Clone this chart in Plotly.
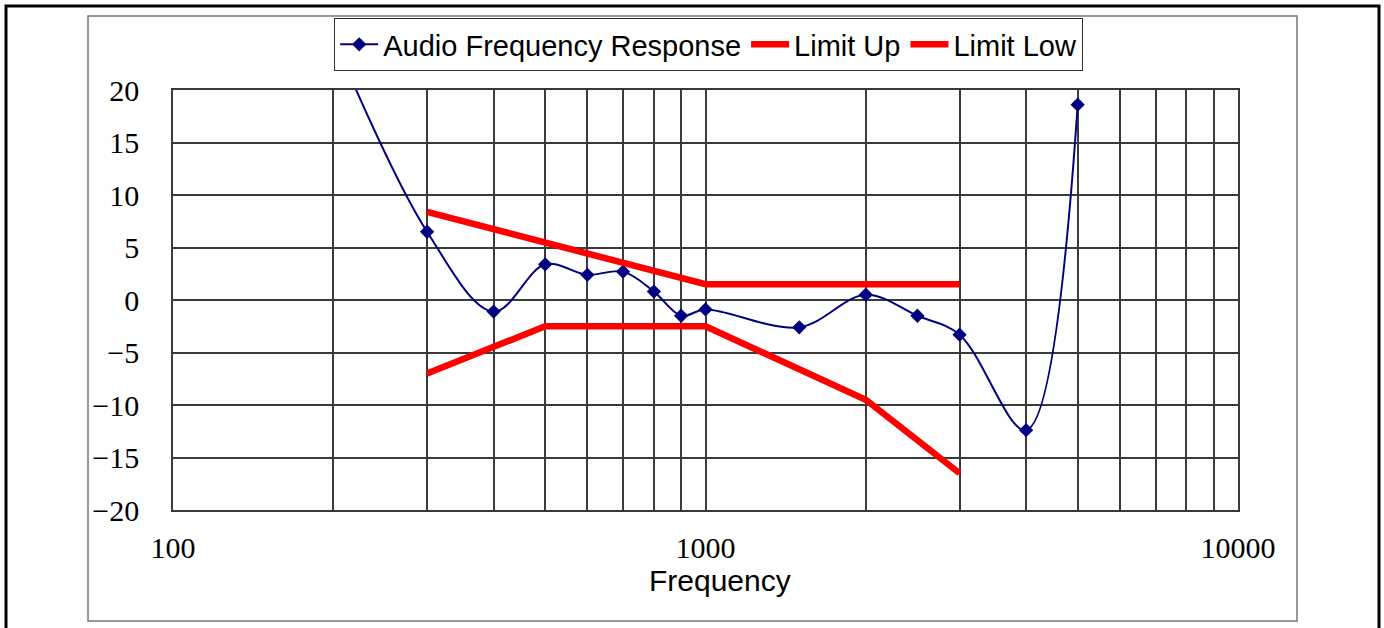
import plotly.graph_objects as go

# Data
freq = [200, 300, 400, 500, 600, 700, 800, 900, 1000, 1500, 2000, 2500, 3000, 4000, 5000]
response = [25.0, 6.5, -1.1, 3.4, 2.4, 2.7, 0.8, -1.5, -0.9, -2.6, 0.5, -1.5, -3.3, -12.4, 18.6]

limit_up_freq = [300, 1000, 3000]
limit_up = [8.4, 1.5, 1.5]

limit_low_freq = [300, 500, 1000, 2000, 3000]
limit_low = [-7.0, -2.5, -2.5, -9.5, -16.5]

grid_vals = [m * d for d in (100, 1000) for m in range(1, 10)] + [10000]
grid_text = [str(v) if v in (100, 1000, 10000) else "" for v in grid_vals]

x_title = "Frequency"

W, H = 1384, 628
L, R, T, B = 173, 146, 90, 118
pw, ph = W - L - R, H - T - B

def px_x(p):
    return (p - L) / pw

def px_y(p):
    return (H - B - p) / ph

fig = go.Figure()
fig.add_trace(go.Scatter(
    x=freq, y=response, name="Audio Frequency Response",
    mode="lines+markers",
    line=dict(color="#000080", width=2, shape="spline", smoothing=1.0),
    marker=dict(symbol="diamond", size=11, color="#000080"),
))
fig.add_trace(go.Scatter(
    x=limit_up_freq, y=limit_up, name="Limit Up", mode="lines",
    line=dict(color="#FF0000", width=6.5),
))
fig.add_trace(go.Scatter(
    x=limit_low_freq, y=limit_low, name="Limit Low", mode="lines",
    line=dict(color="#FF0000", width=6.5),
))

grid_color = "#3a3a3a"
fig.update_xaxes(
    type="log", range=[2, 4],
    tickvals=grid_vals, ticktext=grid_text,
    showgrid=True, gridcolor=grid_color, gridwidth=1.5,
    showline=True, linecolor=grid_color, linewidth=1.5, mirror=True,
    ticks="", ticklabelstandoff=10,
    tickfont=dict(family="Liberation Serif", size=30, color="black"),
    zeroline=False,
)
fig.update_yaxes(
    range=[-20, 20], dtick=5, tick0=0,
    showgrid=True, gridcolor=grid_color, gridwidth=1.5,
    showline=True, linecolor=grid_color, linewidth=1.5, mirror=True,
    ticks="", ticklabelstandoff=26,
    tickfont=dict(family="Liberation Serif", size=30, color="black"),
    zeroline=False,
)

fig.update_layout(
    width=W, height=H,
    margin=dict(l=L, r=R, t=T, b=B, autoexpand=False),
    paper_bgcolor="white", plot_bgcolor="white",
    showlegend=True,
    legend=dict(
        orientation="h", x=0.503, xanchor="center", y=px_y(18), yanchor="top",
        font=dict(family="Liberation Sans", size=29, color="black"),
        bordercolor="#333333", borderwidth=1, bgcolor="white",
        itemwidth=38, tracegroupgap=0,
    ),
    annotations=[
        dict(text=x_title, xref="paper", yref="paper",
             x=px_x(720), y=px_y(580), xanchor="center", yanchor="middle",
             showarrow=False,
             font=dict(family="Liberation Sans", size=30, color="black")),
    ],
    shapes=[
        dict(type="rect", xref="paper", yref="paper",
             x0=px_x(88), x1=px_x(1297), y0=px_y(621), y1=px_y(16),
             line=dict(color="#777777", width=1.5), layer="below"),
        dict(type="rect", xref="paper", yref="paper",
             x0=px_x(6), x1=px_x(1379), y0=px_y(660), y1=px_y(6),
             line=dict(color="black", width=3), layer="below"),
    ],
)

fig.write_html(
    "out.html",
    config={"displayModeBar": False},
    post_script="document.body.style.margin='0';document.body.style.overflow='hidden';",
)
